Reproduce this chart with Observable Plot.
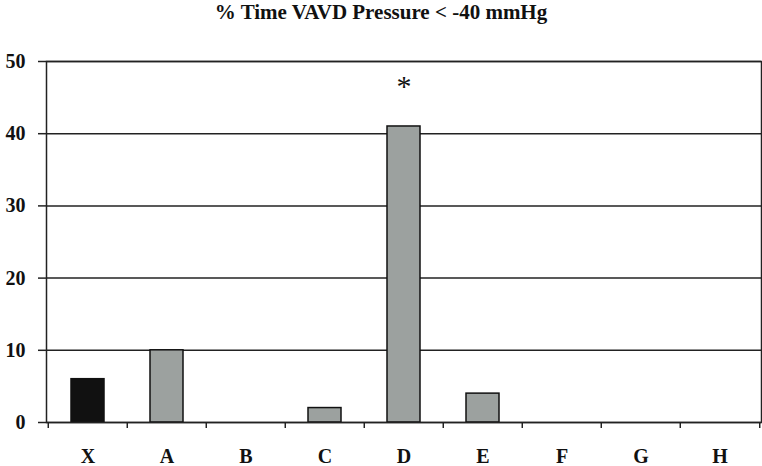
<!DOCTYPE html>
<html><head><meta charset="utf-8">
<script src="https://cdn.jsdelivr.net/npm/d3@7"></script>
<script src="https://cdn.jsdelivr.net/npm/@observablehq/plot@0.6"></script>
<style>
body{margin:0;background:#fff;}
#title{height:40px;line-height:22px;text-align:center;font:bold 21px "Liberation Serif",serif;color:#111;}
</style></head><body>
<div id="title">% Time VAVD Pressure &lt; -40 mmHg</div>
<div id="chart"></div>
<script>
const categories = ["X","A","B","C","D","E","F","G","H"];
const values = [6,10,0,2,41,4,0,0,0];
const groups = ["control","test","test","test","test","test","test","test","test"];
const significance = ["","","","","*","","","",""];
const yTicks = [0,10,20,30,40,50];
const data = categories.map((c,i)=>({category:c, value:values[i], group:groups[i], mark:significance[i]}));
const W=762,H=426,mL=46,mR=1;
const step=(W-mL-mR)/categories.length;
const plot = Plot.plot({
  width:W, height:H, marginLeft:mL, marginRight:mR, marginTop:21, marginBottom:44,
  style:{fontFamily:'"Liberation Serif", serif', fontSize:"20px", fontWeight:"bold", color:"#111", background:"#fff"},
  x:{domain:categories, padding:0, axis:null, label:null},
  y:{domain:[0,50], axis:null, label:null},
  color:{domain:["control","test"], range:["#111","#9ca19f"]},
  marks:[
    Plot.gridY(yTicks,{stroke:"#222", strokeOpacity:1, strokeWidth:1.5}),
    Plot.axisY(yTicks,{tickSize:8, tickPadding:13, stroke:"#222", strokeWidth:1.5, fontSize:20, fontWeight:"bold", label:null}),
    Plot.axisX({tickSize:0, tickPadding:26, fontSize:20, fontWeight:"bold", label:null}),
    Plot.axisX({tickSize:6, tickFormat:()=>"", dx:-step/2, stroke:"#222", strokeWidth:1.5, label:null}),
    Plot.axisX({ticks:[categories[categories.length-1]], tickSize:6, tickFormat:()=>"", dx:step/2, stroke:"#222", strokeWidth:1.5, label:null}),
    Plot.barY(data,{x:"category", y:"value", fill:"group", stroke:"#111", strokeWidth:1.5, insetLeft:23, insetRight:23}),
    Plot.frame({stroke:"#222", strokeWidth:1.5}),
    Plot.text(data,{x:"category", y:"value", text:"mark", dy:-40, fontSize:30, fontWeight:"normal"})
  ]
});
document.getElementById("chart").appendChild(plot);
</script>
</body></html>
